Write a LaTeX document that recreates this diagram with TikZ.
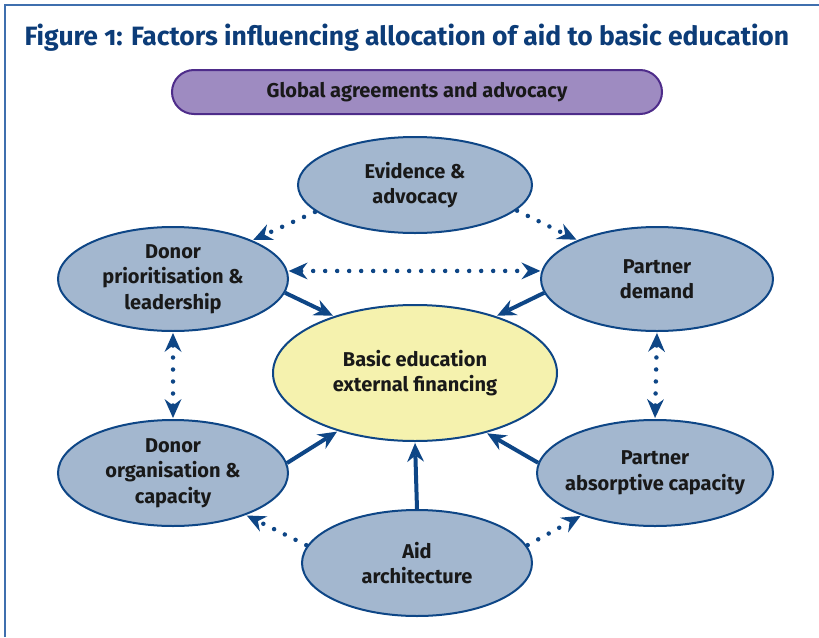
\documentclass[tikz,border=0pt]{standalone}
\usepackage{fontspec}
\setmainfont{Fira Sans}
\newfontfamily\titlefont{Fira Sans}[Numbers=OldStyle]
\usepackage{tikz}
\usetikzlibrary{shapes.geometric, arrows.meta}

\definecolor{titleblue}{RGB}{12,60,120}
\definecolor{frameblue}{RGB}{63,111,174}
\definecolor{edgeblue}{RGB}{14,70,134}
\definecolor{bubblefill}{RGB}{163,183,207}
\definecolor{corefill}{RGB}{245,242,174}
\definecolor{boxfill}{RGB}{158,139,193}
\definecolor{boxedge}{RGB}{78,44,138}

\begin{document}
\begin{tikzpicture}[x=1pt, y=-1pt, >={Stealth[length=19pt, width=17pt, inset=6.5pt, line width=0pt]},
    bubble/.style={ellipse, draw=edgeblue, fill=bubblefill, line width=2pt, inner xsep=-14pt, inner ysep=0pt,
      align=center, text=black!90, font=\fontsize{20}{25.5}\selectfont\bfseries},
    flow/.style={->, draw=edgeblue, line width=4pt, shorten >=1pt},
    link/.style={draw=edgeblue, line width=4.5pt, dash pattern=on 0pt off 12pt, line cap=round, shorten >=1pt, shorten <=1pt}]

        \useasboundingbox (0,0) rectangle (819,637);

        %\draw[help lines, step=50] (0,0) grid (819,637);

        \draw[frameblue, line width=1.8pt] (5,637) -- (5,5) -- (819,5);

        \node[anchor=base west, text=titleblue, font=\titlefont\fontsize{26.5}{30}\selectfont\bfseries] (title) at (21,45)
            {Figure 1: Factors influencing allocation of aid to basic education};

        \node[draw=boxedge, fill=boxfill, line width=2pt, rounded corners=22pt, minimum width=490pt, minimum height=44pt,
            text=black!90, font=\fontsize{20}{24}\selectfont\bfseries] (global) at (417,92) {Global agreements and advocacy};

        \node[bubble, minimum width=234pt, minimum height=96pt] (ev) at (415,185) {Evidence \&\\advocacy};
        \node[bubble, minimum width=230pt, minimum height=104pt] (dp) at (173,279) {Donor\\prioritisation \&\\leadership};
        \node[bubble, minimum width=232pt, minimum height=104pt] (pd) at (657,279) {Partner\\demand};
        \node[bubble, fill=corefill, minimum width=284pt, minimum height=136pt] (basic) at (415,373) {Basic education\\external financing};
        \node[bubble, minimum width=230pt, minimum height=106pt] (do) at (173,473) {Donor\\organisation \&\\capacity};
        \node[bubble, minimum width=236pt, minimum height=106pt] (pa) at (655,473) {Partner\\absorptive capacity};
        \node[bubble, minimum width=230pt, minimum height=106pt] (aid) at (417,563) {Aid\\architecture};

        \draw[link, ->] (ev.195) -- (dp.26);
        \draw[link, ->] (ev.-14) -- (pd.154);
        \draw[link, <->] (dp.4) -- (pd.176);
        \draw[link, <->] (dp.south) -- (do.north);
        \draw[link, <->] (pd.south) -- (pa.north);
        \draw[link, ->] (aid.171) -- (do.-30);
        \draw[link, ->] (aid.9) -- (pa.210);

        \draw[flow] (dp.-7) -- (basic.145);
        \draw[flow] (pd.187) -- (basic.35);
        \draw[flow] (do.5) -- (basic.217);
        \draw[flow] (pa.175) -- (basic.320);
        \draw[flow] (aid.north) -- (basic.south);
\end{tikzpicture}
\end{document}
